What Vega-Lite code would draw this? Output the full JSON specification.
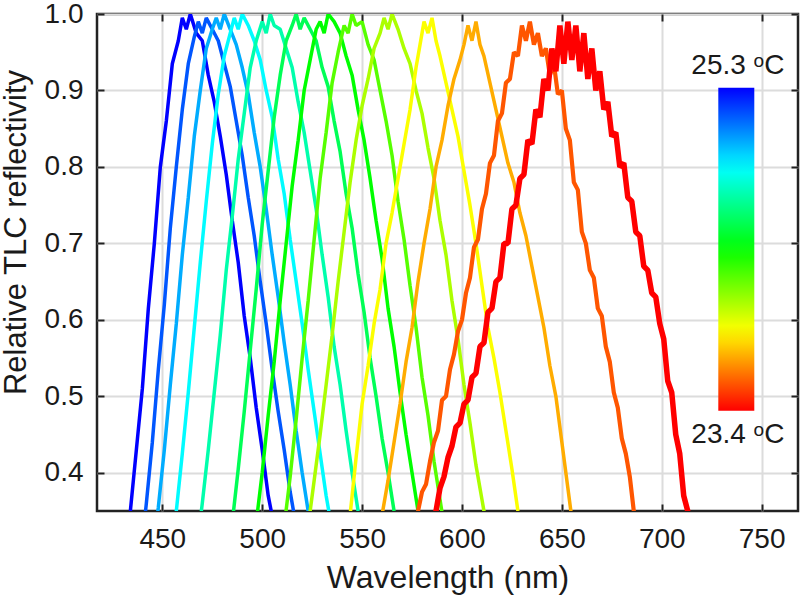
{
"$schema": "https://vega.github.io/schema/vega-lite/v6.json",
"width": 701, "height": 497,
"autosize": "none",
"padding": {"left": 97, "top": 14, "right": 2, "bottom": 85},
"background": "white",
"config": {
  "font": "Liberation Sans",
  "view": {"stroke": "#222222", "strokeWidth": 2.5},
  "axis": {"domain": false, "labelFont": "Liberation Sans", "labelFontSize": 28, "labelColor": "#1a1a1a",
    "titleFont": "Liberation Sans", "titleFontSize": 31, "titleFontWeight": "normal", "titleColor": "#1a1a1a",
    "tickColor": "#222222", "tickWidth": 2, "tickSize": -7, "labelPadding": 21,
    "gridColor": "#dcdcdc", "gridWidth": 2, "gridOpacity": 1, "labelFlush": false, "labelOverlap": false}
},
"datasets": {"curves": [
{"t":25.3,"w":431,"r":0.28},{"t":25.3,"w":434,"r":0.35},{"t":25.3,"w":437,"r":0.43},{"t":25.3,"w":440,"r":0.51},{"t":25.3,"w":443,"r":0.615},{"t":25.3,"w":446,"r":0.7},{"t":25.3,"w":449,"r":0.8},{"t":25.3,"w":452,"r":0.86},{"t":25.3,"w":455,"r":0.935},{"t":25.3,"w":458,"r":0.965},{"t":25.3,"w":460,"r":0.995},{"t":25.3,"w":462,"r":0.98},{"t":25.3,"w":464,"r":1.0},{"t":25.3,"w":467,"r":0.975},{"t":25.3,"w":470,"r":0.965},{"t":25.3,"w":473,"r":0.92},{"t":25.3,"w":476,"r":0.885},{"t":25.3,"w":479,"r":0.84},{"t":25.3,"w":482,"r":0.79},{"t":25.3,"w":485,"r":0.73},{"t":25.3,"w":488,"r":0.675},{"t":25.3,"w":491,"r":0.605},{"t":25.3,"w":494,"r":0.55},{"t":25.3,"w":497,"r":0.485},{"t":25.3,"w":500,"r":0.43},{"t":25.3,"w":503,"r":0.37},{"t":25.3,"w":506,"r":0.33},{"t":25.3,"w":509,"r":0.275},
{"t":25.14,"w":439,"r":0.285},{"t":25.14,"w":442,"r":0.36},{"t":25.14,"w":445,"r":0.44},{"t":25.14,"w":448,"r":0.535},{"t":25.14,"w":451,"r":0.62},{"t":25.14,"w":454,"r":0.72},{"t":25.14,"w":457,"r":0.8},{"t":25.14,"w":460,"r":0.875},{"t":25.14,"w":463,"r":0.935},{"t":25.14,"w":466,"r":0.97},{"t":25.14,"w":468,"r":0.99},{"t":25.14,"w":470,"r":0.975},{"t":25.14,"w":472,"r":0.995},{"t":25.14,"w":475,"r":0.98},{"t":25.14,"w":478,"r":0.965},{"t":25.14,"w":481,"r":0.935},{"t":25.14,"w":484,"r":0.905},{"t":25.14,"w":487,"r":0.86},{"t":25.14,"w":490,"r":0.815},{"t":25.14,"w":493,"r":0.76},{"t":25.14,"w":496,"r":0.71},{"t":25.14,"w":499,"r":0.65},{"t":25.14,"w":502,"r":0.595},{"t":25.14,"w":505,"r":0.535},{"t":25.14,"w":508,"r":0.48},{"t":25.14,"w":511,"r":0.43},{"t":25.14,"w":514,"r":0.375},{"t":25.14,"w":517,"r":0.33},{"t":25.14,"w":520,"r":0.28},
{"t":24.98,"w":445,"r":0.285},{"t":24.98,"w":448,"r":0.355},{"t":24.98,"w":451,"r":0.43},{"t":24.98,"w":454,"r":0.515},{"t":24.98,"w":457,"r":0.595},{"t":24.98,"w":460,"r":0.685},{"t":24.98,"w":463,"r":0.76},{"t":24.98,"w":466,"r":0.84},{"t":24.98,"w":469,"r":0.9},{"t":24.98,"w":472,"r":0.955},{"t":24.98,"w":475,"r":0.98},{"t":24.98,"w":477,"r":0.995},{"t":24.98,"w":479,"r":0.98},{"t":24.98,"w":481,"r":1.0},{"t":24.98,"w":484,"r":0.98},{"t":24.98,"w":487,"r":0.96},{"t":24.98,"w":490,"r":0.93},{"t":24.98,"w":493,"r":0.895},{"t":24.98,"w":496,"r":0.845},{"t":24.98,"w":499,"r":0.8},{"t":24.98,"w":502,"r":0.745},{"t":24.98,"w":505,"r":0.685},{"t":24.98,"w":508,"r":0.63},{"t":24.98,"w":511,"r":0.57},{"t":24.98,"w":514,"r":0.515},{"t":24.98,"w":517,"r":0.455},{"t":24.98,"w":520,"r":0.4},{"t":24.98,"w":523,"r":0.35},{"t":24.98,"w":526,"r":0.3},
{"t":24.83,"w":454,"r":0.28},{"t":24.83,"w":457,"r":0.35},{"t":24.83,"w":460,"r":0.425},{"t":24.83,"w":463,"r":0.505},{"t":24.83,"w":466,"r":0.59},{"t":24.83,"w":469,"r":0.675},{"t":24.83,"w":472,"r":0.755},{"t":24.83,"w":475,"r":0.83},{"t":24.83,"w":478,"r":0.895},{"t":24.83,"w":481,"r":0.945},{"t":24.83,"w":484,"r":0.975},{"t":24.83,"w":486,"r":0.995},{"t":24.83,"w":488,"r":0.98},{"t":24.83,"w":490,"r":1.0},{"t":24.83,"w":493,"r":0.985},{"t":24.83,"w":496,"r":0.965},{"t":24.83,"w":499,"r":0.94},{"t":24.83,"w":502,"r":0.9},{"t":24.83,"w":505,"r":0.865},{"t":24.83,"w":508,"r":0.81},{"t":24.83,"w":511,"r":0.765},{"t":24.83,"w":514,"r":0.705},{"t":24.83,"w":517,"r":0.65},{"t":24.83,"w":520,"r":0.595},{"t":24.83,"w":523,"r":0.535},{"t":24.83,"w":526,"r":0.48},{"t":24.83,"w":529,"r":0.425},{"t":24.83,"w":532,"r":0.37},{"t":24.83,"w":535,"r":0.325},{"t":24.83,"w":538,"r":0.28},
{"t":24.67,"w":467,"r":0.295},{"t":24.67,"w":470,"r":0.36},{"t":24.67,"w":473,"r":0.43},{"t":24.67,"w":476,"r":0.505},{"t":24.67,"w":479,"r":0.58},{"t":24.67,"w":482,"r":0.665},{"t":24.67,"w":485,"r":0.735},{"t":24.67,"w":488,"r":0.81},{"t":24.67,"w":491,"r":0.87},{"t":24.67,"w":494,"r":0.93},{"t":24.67,"w":497,"r":0.965},{"t":24.67,"w":500,"r":0.99},{"t":24.67,"w":502,"r":0.975},{"t":24.67,"w":504,"r":1.0},{"t":24.67,"w":506,"r":0.985},{"t":24.67,"w":509,"r":0.98},{"t":24.67,"w":512,"r":0.955},{"t":24.67,"w":515,"r":0.93},{"t":24.67,"w":518,"r":0.885},{"t":24.67,"w":521,"r":0.845},{"t":24.67,"w":524,"r":0.795},{"t":24.67,"w":527,"r":0.745},{"t":24.67,"w":530,"r":0.685},{"t":24.67,"w":533,"r":0.63},{"t":24.67,"w":536,"r":0.565},{"t":24.67,"w":539,"r":0.515},{"t":24.67,"w":542,"r":0.455},{"t":24.67,"w":545,"r":0.4},{"t":24.67,"w":548,"r":0.35},{"t":24.67,"w":551,"r":0.305},
{"t":24.51,"w":482,"r":0.27},{"t":24.51,"w":485,"r":0.335},{"t":24.51,"w":488,"r":0.405},{"t":24.51,"w":491,"r":0.48},{"t":24.51,"w":494,"r":0.56},{"t":24.51,"w":497,"r":0.64},{"t":24.51,"w":500,"r":0.725},{"t":24.51,"w":503,"r":0.795},{"t":24.51,"w":506,"r":0.865},{"t":24.51,"w":509,"r":0.92},{"t":24.51,"w":512,"r":0.965},{"t":24.51,"w":515,"r":0.985},{"t":24.51,"w":517,"r":1.0},{"t":24.51,"w":519,"r":0.98},{"t":24.51,"w":521,"r":0.995},{"t":24.51,"w":524,"r":0.98},{"t":24.51,"w":527,"r":0.965},{"t":24.51,"w":530,"r":0.93},{"t":24.51,"w":533,"r":0.905},{"t":24.51,"w":536,"r":0.86},{"t":24.51,"w":539,"r":0.82},{"t":24.51,"w":542,"r":0.765},{"t":24.51,"w":545,"r":0.72},{"t":24.51,"w":548,"r":0.66},{"t":24.51,"w":551,"r":0.61},{"t":24.51,"w":554,"r":0.55},{"t":24.51,"w":557,"r":0.5},{"t":24.51,"w":560,"r":0.445},{"t":24.51,"w":563,"r":0.4},{"t":24.51,"w":566,"r":0.35},{"t":24.51,"w":569,"r":0.305},
{"t":24.35,"w":494,"r":0.275},{"t":24.35,"w":497,"r":0.335},{"t":24.35,"w":500,"r":0.4},{"t":24.35,"w":503,"r":0.475},{"t":24.35,"w":506,"r":0.545},{"t":24.35,"w":509,"r":0.625},{"t":24.35,"w":512,"r":0.7},{"t":24.35,"w":515,"r":0.775},{"t":24.35,"w":518,"r":0.835},{"t":24.35,"w":521,"r":0.9},{"t":24.35,"w":524,"r":0.94},{"t":24.35,"w":527,"r":0.98},{"t":24.35,"w":529,"r":0.99},{"t":24.35,"w":531,"r":0.975},{"t":24.35,"w":533,"r":1.0},{"t":24.35,"w":536,"r":0.99},{"t":24.35,"w":539,"r":0.975},{"t":24.35,"w":542,"r":0.945},{"t":24.35,"w":545,"r":0.92},{"t":24.35,"w":548,"r":0.875},{"t":24.35,"w":551,"r":0.835},{"t":24.35,"w":554,"r":0.785},{"t":24.35,"w":557,"r":0.73},{"t":24.35,"w":560,"r":0.68},{"t":24.35,"w":563,"r":0.615},{"t":24.35,"w":566,"r":0.565},{"t":24.35,"w":569,"r":0.505},{"t":24.35,"w":572,"r":0.45},{"t":24.35,"w":575,"r":0.4},{"t":24.35,"w":578,"r":0.35},{"t":24.35,"w":581,"r":0.3},
{"t":24.19,"w":508,"r":0.27},{"t":24.19,"w":511,"r":0.33},{"t":24.19,"w":514,"r":0.395},{"t":24.19,"w":517,"r":0.47},{"t":24.19,"w":520,"r":0.55},{"t":24.19,"w":523,"r":0.625},{"t":24.19,"w":526,"r":0.705},{"t":24.19,"w":529,"r":0.785},{"t":24.19,"w":532,"r":0.845},{"t":24.19,"w":535,"r":0.91},{"t":24.19,"w":538,"r":0.95},{"t":24.19,"w":541,"r":0.985},{"t":24.19,"w":543,"r":0.975},{"t":24.19,"w":545,"r":1.0},{"t":24.19,"w":547,"r":0.985},{"t":24.19,"w":550,"r":0.99},{"t":24.19,"w":553,"r":0.96},{"t":24.19,"w":556,"r":0.94},{"t":24.19,"w":559,"r":0.9},{"t":24.19,"w":562,"r":0.86},{"t":24.19,"w":565,"r":0.815},{"t":24.19,"w":568,"r":0.755},{"t":24.19,"w":571,"r":0.705},{"t":24.19,"w":574,"r":0.645},{"t":24.19,"w":577,"r":0.59},{"t":24.19,"w":580,"r":0.525},{"t":24.19,"w":583,"r":0.475},{"t":24.19,"w":586,"r":0.415},{"t":24.19,"w":589,"r":0.365},{"t":24.19,"w":592,"r":0.315},
{"t":24.03,"w":520,"r":0.28},{"t":24.03,"w":523,"r":0.33},{"t":24.03,"w":526,"r":0.39},{"t":24.03,"w":529,"r":0.45},{"t":24.03,"w":532,"r":0.515},{"t":24.03,"w":535,"r":0.58},{"t":24.03,"w":538,"r":0.65},{"t":24.03,"w":541,"r":0.715},{"t":24.03,"w":544,"r":0.78},{"t":24.03,"w":547,"r":0.835},{"t":24.03,"w":550,"r":0.88},{"t":24.03,"w":553,"r":0.915},{"t":24.03,"w":556,"r":0.955},{"t":24.03,"w":559,"r":0.975},{"t":24.03,"w":561,"r":0.995},{"t":24.03,"w":563,"r":0.98},{"t":24.03,"w":565,"r":1.0},{"t":24.03,"w":568,"r":0.98},{"t":24.03,"w":571,"r":0.955},{"t":24.03,"w":574,"r":0.935},{"t":24.03,"w":577,"r":0.9},{"t":24.03,"w":580,"r":0.87},{"t":24.03,"w":583,"r":0.825},{"t":24.03,"w":586,"r":0.785},{"t":24.03,"w":589,"r":0.73},{"t":24.03,"w":592,"r":0.685},{"t":24.03,"w":595,"r":0.625},{"t":24.03,"w":598,"r":0.575},{"t":24.03,"w":601,"r":0.515},{"t":24.03,"w":604,"r":0.465},{"t":24.03,"w":607,"r":0.41},{"t":24.03,"w":610,"r":0.365},{"t":24.03,"w":613,"r":0.32},
{"t":23.88,"w":541,"r":0.3},{"t":23.88,"w":544,"r":0.345},{"t":23.88,"w":547,"r":0.42},{"t":23.88,"w":550,"r":0.49},{"t":23.88,"w":553,"r":0.54},{"t":23.88,"w":556,"r":0.595},{"t":23.88,"w":559,"r":0.64},{"t":23.88,"w":562,"r":0.7},{"t":23.88,"w":565,"r":0.74},{"t":23.88,"w":568,"r":0.785},{"t":23.88,"w":571,"r":0.83},{"t":23.88,"w":574,"r":0.875},{"t":23.88,"w":577,"r":0.93},{"t":23.88,"w":579,"r":0.96},{"t":23.88,"w":581,"r":0.99},{"t":23.88,"w":583,"r":0.975},{"t":23.88,"w":585,"r":0.995},{"t":23.88,"w":587,"r":0.965},{"t":23.88,"w":589,"r":0.945},{"t":23.88,"w":592,"r":0.91},{"t":23.88,"w":595,"r":0.875},{"t":23.88,"w":598,"r":0.84},{"t":23.88,"w":601,"r":0.795},{"t":23.88,"w":604,"r":0.75},{"t":23.88,"w":607,"r":0.7},{"t":23.88,"w":610,"r":0.645},{"t":23.88,"w":613,"r":0.59},{"t":23.88,"w":616,"r":0.55},{"t":23.88,"w":619,"r":0.505},{"t":23.88,"w":622,"r":0.455},{"t":23.88,"w":625,"r":0.405},{"t":23.88,"w":628,"r":0.35},{"t":23.88,"w":631,"r":0.3},
{"t":23.72,"w":557,"r":0.31},{"t":23.72,"w":560,"r":0.345},{"t":23.72,"w":563,"r":0.39},{"t":23.72,"w":566,"r":0.44},{"t":23.72,"w":569,"r":0.49},{"t":23.72,"w":572,"r":0.545},{"t":23.72,"w":575,"r":0.59},{"t":23.72,"w":578,"r":0.65},{"t":23.72,"w":581,"r":0.7},{"t":23.72,"w":584,"r":0.745},{"t":23.72,"w":587,"r":0.8},{"t":23.72,"w":590,"r":0.835},{"t":23.72,"w":593,"r":0.88},{"t":23.72,"w":596,"r":0.915},{"t":23.72,"w":599,"r":0.94},{"t":23.72,"w":601,"r":0.96},{"t":23.72,"w":603,"r":0.985},{"t":23.72,"w":605,"r":0.965},{"t":23.72,"w":607,"r":0.99},{"t":23.72,"w":609,"r":0.96},{"t":23.72,"w":611,"r":0.945},{"t":23.72,"w":614,"r":0.91},{"t":23.72,"w":617,"r":0.875},{"t":23.72,"w":620,"r":0.84},{"t":23.72,"w":623,"r":0.805},{"t":23.72,"w":626,"r":0.78},{"t":23.72,"w":629,"r":0.74},{"t":23.72,"w":632,"r":0.71},{"t":23.72,"w":635,"r":0.67},{"t":23.72,"w":638,"r":0.63},{"t":23.72,"w":641,"r":0.59},{"t":23.72,"w":644,"r":0.54},{"t":23.72,"w":647,"r":0.5},{"t":23.72,"w":650,"r":0.44},{"t":23.72,"w":653,"r":0.38},{"t":23.72,"w":656,"r":0.32},
{"t":23.56,"w":574,"r":0.3},{"t":23.56,"w":576,"r":0.33},{"t":23.56,"w":578,"r":0.35},{"t":23.56,"w":580,"r":0.375},{"t":23.56,"w":582,"r":0.385},{"t":23.56,"w":584,"r":0.415},{"t":23.56,"w":586,"r":0.44},{"t":23.56,"w":588,"r":0.455},{"t":23.56,"w":590,"r":0.495},{"t":23.56,"w":592,"r":0.5},{"t":23.56,"w":594,"r":0.535},{"t":23.56,"w":596,"r":0.555},{"t":23.56,"w":598,"r":0.585},{"t":23.56,"w":600,"r":0.6},{"t":23.56,"w":602,"r":0.635},{"t":23.56,"w":604,"r":0.655},{"t":23.56,"w":606,"r":0.695},{"t":23.56,"w":608,"r":0.705},{"t":23.56,"w":610,"r":0.745},{"t":23.56,"w":612,"r":0.765},{"t":23.56,"w":614,"r":0.805},{"t":23.56,"w":616,"r":0.815},{"t":23.56,"w":618,"r":0.86},{"t":23.56,"w":620,"r":0.87},{"t":23.56,"w":622,"r":0.91},{"t":23.56,"w":624,"r":0.915},{"t":23.56,"w":626,"r":0.95},{"t":23.56,"w":628,"r":0.945},{"t":23.56,"w":630,"r":0.985},{"t":23.56,"w":632,"r":0.965},{"t":23.56,"w":634,"r":0.99},{"t":23.56,"w":636,"r":0.96},{"t":23.56,"w":638,"r":0.975},{"t":23.56,"w":640,"r":0.945},{"t":23.56,"w":642,"r":0.955},{"t":23.56,"w":644,"r":0.92},{"t":23.56,"w":646,"r":0.935},{"t":23.56,"w":648,"r":0.895},{"t":23.56,"w":650,"r":0.9},{"t":23.56,"w":652,"r":0.85},{"t":23.56,"w":654,"r":0.835},{"t":23.56,"w":656,"r":0.78},{"t":23.56,"w":658,"r":0.77},{"t":23.56,"w":660,"r":0.715},{"t":23.56,"w":662,"r":0.7},{"t":23.56,"w":664,"r":0.665},{"t":23.56,"w":666,"r":0.655},{"t":23.56,"w":668,"r":0.615},{"t":23.56,"w":670,"r":0.605},{"t":23.56,"w":672,"r":0.565},{"t":23.56,"w":674,"r":0.545},{"t":23.56,"w":676,"r":0.505},{"t":23.56,"w":678,"r":0.485},{"t":23.56,"w":680,"r":0.445},{"t":23.56,"w":682,"r":0.425},{"t":23.56,"w":684,"r":0.395},{"t":23.56,"w":686,"r":0.35},{"t":23.56,"w":688,"r":0.3},
{"t":23.4,"w":583,"r":0.3},{"t":23.4,"w":585,"r":0.335},{"t":23.4,"w":587,"r":0.35},{"t":23.4,"w":589,"r":0.38},{"t":23.4,"w":591,"r":0.395},{"t":23.4,"w":593,"r":0.42},{"t":23.4,"w":595,"r":0.435},{"t":23.4,"w":597,"r":0.46},{"t":23.4,"w":599,"r":0.465},{"t":23.4,"w":601,"r":0.49},{"t":23.4,"w":603,"r":0.495},{"t":23.4,"w":605,"r":0.525},{"t":23.4,"w":607,"r":0.53},{"t":23.4,"w":609,"r":0.565},{"t":23.4,"w":611,"r":0.57},{"t":23.4,"w":613,"r":0.61},{"t":23.4,"w":615,"r":0.615},{"t":23.4,"w":617,"r":0.65},{"t":23.4,"w":619,"r":0.655},{"t":23.4,"w":621,"r":0.7},{"t":23.4,"w":623,"r":0.7},{"t":23.4,"w":625,"r":0.745},{"t":23.4,"w":627,"r":0.75},{"t":23.4,"w":629,"r":0.785},{"t":23.4,"w":631,"r":0.79},{"t":23.4,"w":633,"r":0.835},{"t":23.4,"w":635,"r":0.83},{"t":23.4,"w":637,"r":0.875},{"t":23.4,"w":639,"r":0.865},{"t":23.4,"w":641,"r":0.915},{"t":23.4,"w":643,"r":0.9},{"t":23.4,"w":645,"r":0.955},{"t":23.4,"w":647,"r":0.925},{"t":23.4,"w":649,"r":0.985},{"t":23.4,"w":651,"r":0.935},{"t":23.4,"w":653,"r":0.99},{"t":23.4,"w":655,"r":0.94},{"t":23.4,"w":657,"r":0.985},{"t":23.4,"w":659,"r":0.925},{"t":23.4,"w":661,"r":0.975},{"t":23.4,"w":663,"r":0.915},{"t":23.4,"w":665,"r":0.955},{"t":23.4,"w":667,"r":0.9},{"t":23.4,"w":669,"r":0.925},{"t":23.4,"w":671,"r":0.875},{"t":23.4,"w":673,"r":0.885},{"t":23.4,"w":675,"r":0.84},{"t":23.4,"w":677,"r":0.845},{"t":23.4,"w":679,"r":0.8},{"t":23.4,"w":681,"r":0.805},{"t":23.4,"w":683,"r":0.76},{"t":23.4,"w":685,"r":0.755},{"t":23.4,"w":687,"r":0.715},{"t":23.4,"w":689,"r":0.71},{"t":23.4,"w":691,"r":0.67},{"t":23.4,"w":693,"r":0.665},{"t":23.4,"w":695,"r":0.635},{"t":23.4,"w":697,"r":0.63},{"t":23.4,"w":699,"r":0.595},{"t":23.4,"w":701,"r":0.575},{"t":23.4,"w":703,"r":0.52},{"t":23.4,"w":705,"r":0.505},{"t":23.4,"w":707,"r":0.45},{"t":23.4,"w":709,"r":0.425},{"t":23.4,"w":711,"r":0.37},{"t":23.4,"w":713,"r":0.35},{"t":23.4,"w":715,"r":0.31}
]},
"resolve": {"axis": {"x": "independent", "y": "independent"}},
"layer": [
  {"data": {"name": "curves"},
   "mark": {"type": "line", "clip": true, "strokeJoin": "bevel"},
   "encoding": {
     "x": {"field": "w", "type": "quantitative", "scale": {"domain": [417.3, 768.2], "nice": false, "zero": false},
       "axis": {"orient": "bottom", "values": [450,500,550,600,650,700,750], "title": "Wavelength (nm)", "titleFontSize": 32, "grid": true, "titleY": 76, "titleBaseline": "alphabetic"}},
     "y": {"field": "r", "type": "quantitative", "scale": {"domain": [0.35, 1.0], "nice": false, "zero": false},
       "axis": {"orient": "left", "values": [0.4,0.5,0.6,0.7,0.8,0.9,1.0], "format": ".1f", "title": "Relative TLC reflectivity", "grid": true, "titleX": -72, "titleY": 218, "titleBaseline": "alphabetic", "titleAngle": 270, "titleAlign": "center"}},
     "color": {"field": "t", "type": "quantitative",
       "scale": {"type": "linear", "domain": [23.4, 23.875, 24.35, 24.825, 25.3], "range": ["#ff0000", "#ffff00", "#00ff00", "#00ffff", "#0000ff"], "interpolate": "rgb"},
       "legend": {"orient": "none", "legendX": 621.3, "legendY": 73.7, "direction": "vertical", "gradientLength": 323, "gradientThickness": 36, "title": null, "labelExpr": "''", "labelOpacity": 0, "padding": 0, "gradientStrokeWidth": 0}},
     "detail": {"field": "t", "type": "nominal"},
     "order": {"field": "w", "type": "quantitative"},
     "strokeWidth": {"condition": [{"test": "datum.t < 23.45", "value": 5.5}, {"test": "datum.t < 23.6", "value": 4.2}], "value": 3.5}
   }},
  {"data": {"values": [{}]},
   "mark": {"type": "text", "fontSize": 28, "font": "Liberation Sans", "color": "#1a1a1a", "align": "center", "baseline": "alphabetic"},
   "encoding": {"x": {"datum": 738.1, "type": "quantitative", "axis": null}, "y": {"datum": 0.921, "type": "quantitative", "axis": null}, "text": {"value": "25.3 ᵒC"}}},
  {"data": {"values": [{}]},
   "mark": {"type": "text", "fontSize": 28, "font": "Liberation Sans", "color": "#1a1a1a", "align": "center", "baseline": "alphabetic"},
   "encoding": {"x": {"datum": 738.1, "type": "quantitative", "axis": null}, "y": {"datum": 0.4385, "type": "quantitative", "axis": null}, "text": {"value": "23.4 ᵒC"}}},
  {"data": {"values": [{"w": 450, "r": 0.4}]},
   "mark": {"type": "point", "opacity": 0},
   "encoding": {
     "x": {"field": "w", "type": "quantitative", "axis": {"orient": "top", "values": [450,500,550,600,650,700,750], "labels": false, "title": null, "grid": false}},
     "y": {"field": "r", "type": "quantitative", "axis": {"orient": "right", "values": [0.4,0.5,0.6,0.7,0.8,0.9,1.0], "labels": false, "title": null, "grid": false}}
   }}
]
}
